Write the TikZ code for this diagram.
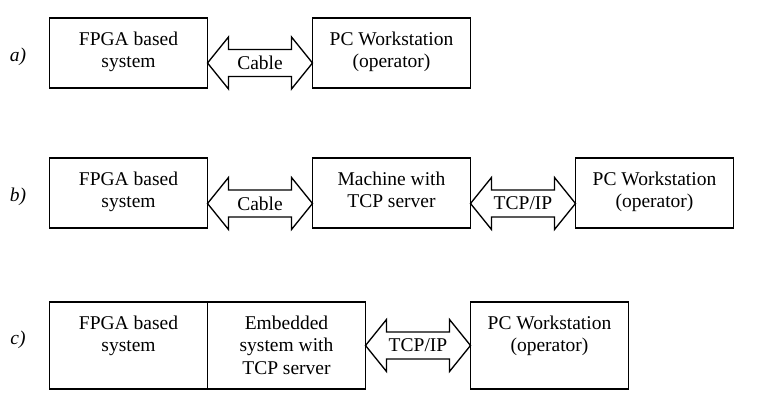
\documentclass[tikz,border=0pt]{standalone}
\usepackage{fontspec}
\setmainfont{Liberation Serif}
\usetikzlibrary{positioning,calc}

\tikzset{
  box/.style={draw, line width=0.8pt, minimum width=94.8pt, minimum height=42pt, inner sep=0pt, outer sep=0pt},
  tallbox/.style={box, minimum height=52.2pt},
  boxtext/.style={anchor=north, align=center, inner sep=0pt, yshift=-7.9pt},
  link/.style={draw, line width=0.8pt, line join=miter},
  row/.style={font=\fontsize{11.7}{13.5}\selectfont\itshape}
}

% double headed link between two tips
\newcommand{\duplex}[3]{%
  \draw[link] (#1) -- ++(21,-26) -- ++(0,12.5) -- ($(#2)+(-21,-13.5)$) -- ++(0,-12.5) -- (#2)
    -- ++(-21,26) -- ++(0,-12.5) -- ($(#1)+(21,13.5)$) -- ++(0,12.5) -- cycle;
  \node at ($(#1)!0.5!(#2)$) {#3};}

\begin{document}
\begin{tikzpicture}[x=0.6pt, y=-0.6pt, font=\fontsize{11.7}{13.5}\selectfont]
    \useasboundingbox (0,0) rectangle (766,405);
    % a)
    \node[row] (labA) at (18,57) {a)};
    \node[box, label={[boxtext]north:{FPGA based\\system}}] (fpgaA) at (128.5,53) {};
    \node[box, right=63pt of fpgaA, label={[boxtext]north:{PC Workstation\\(operator)}}] (pcA) {};
    \coordinate (cabA-l) at (fpgaA.east |- 0,63);
    \coordinate (cabA-r) at (pcA.west |- 0,63);
    \duplex{cabA-l}{cabA-r}{Cable}
    % b)
    \node[row] (labB) at (18,197) {b)};
    \node[box, label={[boxtext]north:{FPGA based\\system}}] (fpgaB) at (128.5,193) {};
    \node[box, right=63pt of fpgaB, label={[boxtext]north:{Machine with\\TCP server}}] (srvB) {};
    \node[box, right=63pt of srvB, label={[boxtext]north:{PC Workstation\\(operator)}}] (pcB) {};
    \coordinate (cabB-l) at (fpgaB.east |- 0,203.5);
    \coordinate (cabB-r) at (srvB.west |- 0,203.5);
    \duplex{cabB-l}{cabB-r}{Cable}
    \coordinate (tcpB-l) at (srvB.east |- 0,203.5);
    \coordinate (tcpB-r) at (pcB.west |- 0,203.5);
    \duplex{tcpB-l}{tcpB-r}{TCP/IP}
    % c)
    \node[row] (labC) at (18,340) {c)};
    \node[tallbox, label={[boxtext]north:{FPGA based\\system}}] (fpgaC) at (128.5,345.5) {};
    \node[tallbox, right=0pt of fpgaC, label={[boxtext]north:{Embedded\\system with\\TCP server}}] (embC) {};
    \node[tallbox, right=63pt of embC, label={[boxtext]north:{PC Workstation\\(operator)}}] (pcC) {};
    \coordinate (tcpC-l) at (embC.east |- 0,345.5);
    \coordinate (tcpC-r) at (pcC.west |- 0,345.5);
    \duplex{tcpC-l}{tcpC-r}{TCP/IP}
\end{tikzpicture}
\end{document}
